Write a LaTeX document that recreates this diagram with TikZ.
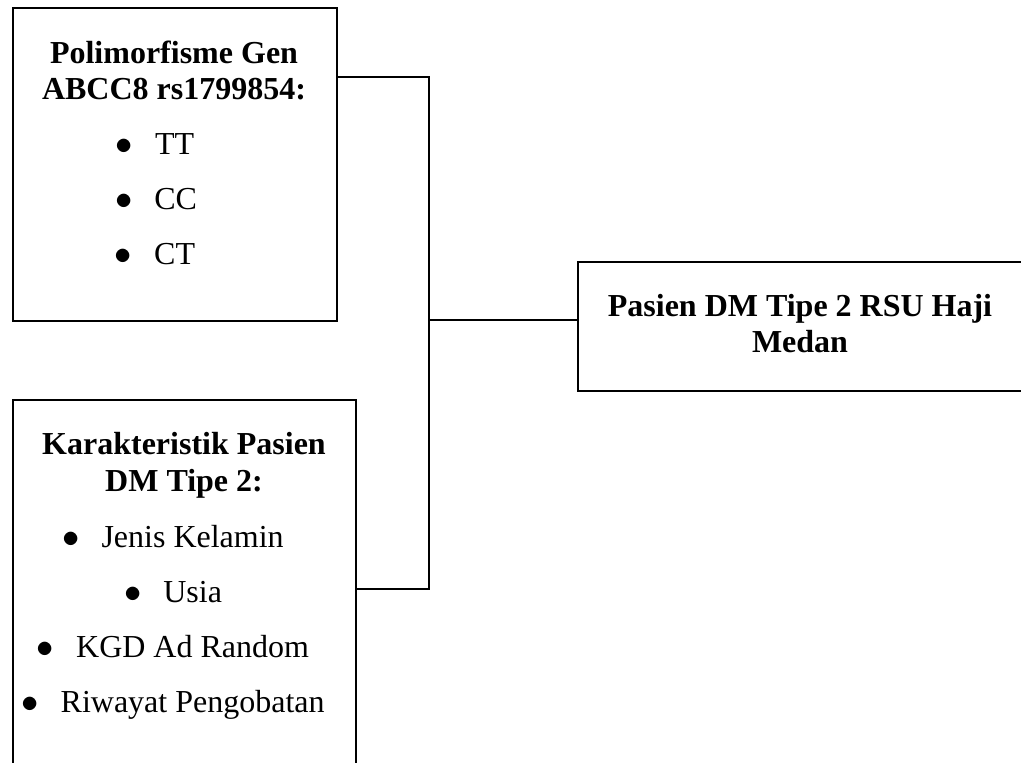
\documentclass[tikz,border=0pt]{standalone}
\usepackage{fontspec}
\setmainfont{Liberation Serif}

\begin{document}
\begin{tikzpicture}
[x=0.5pt,y=-0.5pt
,kotak/.style={draw,line width=0.9pt,anchor=north west,inner sep=0pt}
,judul/.style={anchor=base,inner sep=0pt,font=\fontsize{16}{18}\selectfont\bfseries}
,butir/.style={anchor=base,inner sep=0pt,font=\fontsize{16}{18}\selectfont}
,garis/.style={draw,line width=0.9pt}]
\clip (0,0) rectangle (1021,763);
\node[kotak,minimum width=162pt,minimum height=156.5pt] (poly) at (12,7) {};
\node[kotak,minimum width=171.5pt,minimum height=210.5pt] (ciri) at (12,399) {};
\node[kotak,minimum width=236.5pt,minimum height=64.5pt] (pasien) at (577,261) {};
\node[judul] (poly1) at (174,64) {Polimorfisme Gen};
\node[judul] (poly2) at (174,100) {ABCC8 rs1799854:};
\node[butir] (tt) at (155,155) {$\bullet$\hspace{11pt}TT};
\node[butir] (cc) at (156,210) {$\bullet$\hspace{11pt}CC};
\node[butir] (ct) at (155,265) {$\bullet$\hspace{11pt}CT};
\node[judul] (ciri1) at (184,455) {Karakteristik Pasien};
\node[judul] (ciri2) at (184,492) {DM Tipe 2:};
\node[butir] (jk) at (173,547) {$\bullet$\hspace{11pt}Jenis Kelamin};
\node[butir] (usia) at (173,602) {$\bullet$\hspace{11pt}Usia};
\node[butir] (kgd) at (173,657) {$\bullet$\hspace{11pt}KGD Ad Random};
\node[butir] (obat) at (173,712) {$\bullet$\hspace{11pt}Riwayat Pengobatan};
\node[judul] (pasien1) at (800,317) {Pasien DM Tipe 2 RSU Haji};
\node[judul] (pasien2) at (800,353) {Medan};
\coordinate (j1) at (429,77);
\coordinate (j2) at (429,589);
\coordinate (j3) at (429,320);
\draw[garis] (poly.east |- j1) -- (j1) -- (j2) -- (ciri.east |- j2);
\draw[garis] (j3) -- (pasien.west |- j3);
\end{tikzpicture}
\end{document}
